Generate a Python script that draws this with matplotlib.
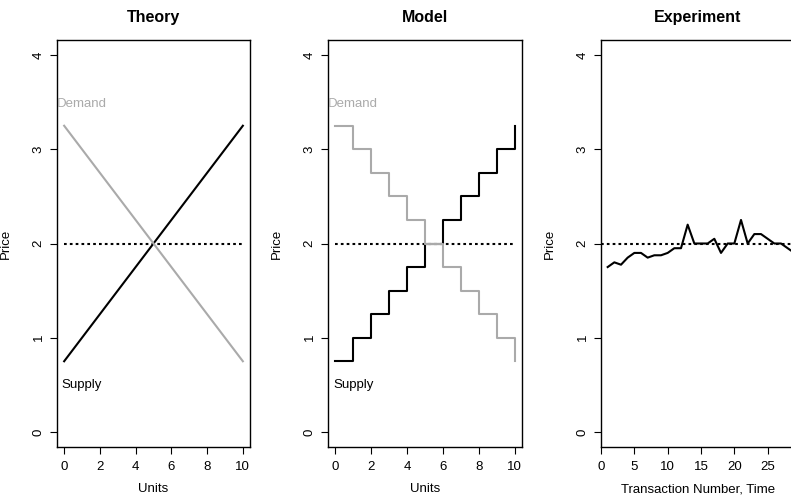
import matplotlib.pyplot as plt

# --- data ---
units = [0, 1, 2, 3, 4, 5, 6, 7, 8, 9, 10]
supply_price = [0.75, 1.0, 1.25, 1.5, 1.75, 2.0, 2.25, 2.5, 2.75, 3.0, 3.25]
demand_price = [3.25, 3.0, 2.75, 2.5, 2.25, 2.0, 1.75, 1.5, 1.25, 1.0, 0.75]
equilibrium = 2.0

theory_x = [0, 10]
theory_supply = [0.75, 3.25]
theory_demand = [3.25, 0.75]

trans = list(range(1, 30))
trans_price = [1.75, 1.8, 1.775, 1.85, 1.9, 1.9, 1.85, 1.875, 1.875, 1.9,
               1.95, 1.95, 2.2, 2.0, 2.0, 2.0, 2.05, 1.9, 2.0, 2.0,
               2.25, 2.0, 2.1, 2.1, 2.05, 2.0, 2.0, 1.95, 1.9]

titles = ["Theory", "Model", "Experiment"]
y_ticks = [0, 1, 2, 3, 4]

plt.rcParams['font.family'] = ['Liberation Sans', 'DejaVu Sans']

W, H = 791, 498
fig = plt.figure(figsize=(W / 100, H / 100), dpi=100)

gray = "#aaaaaa"
dot = (0, (1.3, 1.5))


def make_ax(left_px, width_px):
    ax = fig.add_axes([left_px / W, (H - 447) / H, width_px / W, 407 / H])
    ax.set_ylim(-0.16, 4.16)
    ax.set_yticks(y_ticks)
    ax.tick_params(axis='y', labelrotation=90, length=5, width=0.8, pad=4, labelsize=9.5)
    ax.tick_params(axis='x', length=5, width=0.8, pad=5, labelsize=9.5)
    for lab in ax.get_yticklabels():
        lab.set_va('center')
    for s in ax.spines.values():
        s.set_linewidth(1.0)
    ax.set_ylabel("Price", fontsize=9.5)
    ax.yaxis.set_label_coords(-45 / width_px, 0.5)
    return ax


axes = [make_ax(57, 193), make_ax(328, 194), make_ax(601, 194)]

# Theory
ax = axes[0]
ax.set_xlim(-0.4, 10.4)
ax.set_xticks([0, 2, 4, 6, 8, 10])
ax.plot(theory_x, [equilibrium, equilibrium], color="black", lw=1.5, linestyle=dot)
ax.plot(theory_x, theory_supply, color="black", lw=1.5)
ax.plot(theory_x, theory_demand, color=gray, lw=1.5)

# Model
ax = axes[1]
ax.set_xlim(-0.4, 10.4)
ax.set_xticks([0, 2, 4, 6, 8, 10])
ax.plot([units[0], units[-1]], [equilibrium, equilibrium], color="black", lw=1.5, linestyle=dot)
ax.step(units, supply_price, where="post", color="black", lw=1.5)
ax.step(units, demand_price, where="post", color=gray, lw=1.5)

for ax in axes[:2]:
    ax.text(1, 3.48, "Demand", color=gray, fontsize=9.5, ha="center", va="center")
    ax.text(1, 0.5, "Supply", color="black", fontsize=9.5, ha="center", va="center")
    ax.set_xlabel("Units", fontsize=9.5)

# Experiment
ax = axes[2]
ax.set_xlim(0, 29.1)
ax.set_xticks([0, 5, 10, 15, 20, 25])
ax.axhline(equilibrium, color="black", lw=1.5, linestyle=dot)
ax.plot(trans, trans_price, color="black", lw=1.5)
ax.set_xlabel("Transaction Number, Time", fontsize=9.5)

for ax, t in zip(axes, titles):
    ax.xaxis.set_label_coords(0.5, -36 / 407)
    ax.set_title(t, fontsize=11.5, fontweight="bold", pad=13)

fig.savefig("out.png", dpi=100)
